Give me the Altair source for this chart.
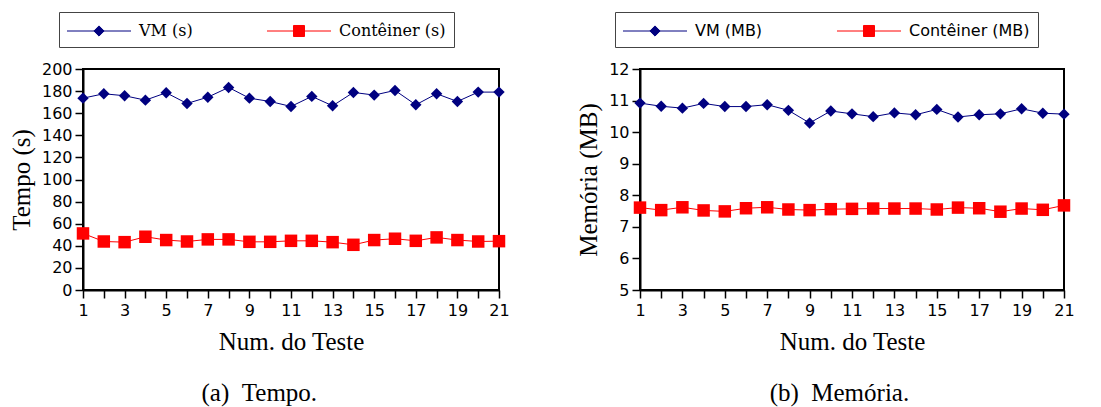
import altair as alt
import pandas as pd

# ---------------- data ----------------
testes = list(range(1, 22))
x_tick_values = list(range(1, 22))

tempo_series = ["VM (s)", "Contêiner (s)"]
tempo_vm = [173.6, 177.6, 175.8, 171.8, 178.5, 168.8, 174.5, 183.3, 173.6, 170.6, 166.1,
            175.2, 166.7, 178.8, 176.4, 180.6, 167.6, 177.6, 170.6, 179.1, 179.1]
tempo_ct = [51.2, 43.9, 43.3, 48.2, 45.2, 43.9, 45.8, 45.8, 43.6, 43.6, 44.5,
            44.5, 43.3, 40.9, 45.2, 46.4, 44.5, 47.6, 45.2, 43.9, 44.2]
tempo_ticks = [0, 20, 40, 60, 80, 100, 120, 140, 160, 180, 200]

mem_series = ["VM (MB)", "Contêiner (MB)"]
mem_vm = [10.92, 10.82, 10.76, 10.91, 10.81, 10.81, 10.87, 10.69, 10.29, 10.67, 10.58,
          10.49, 10.61, 10.55, 10.72, 10.48, 10.55, 10.58, 10.74, 10.60, 10.57]
mem_ct = [7.61, 7.53, 7.62, 7.52, 7.49, 7.59, 7.62, 7.55, 7.53, 7.56, 7.57,
          7.58, 7.58, 7.58, 7.55, 7.61, 7.59, 7.48, 7.58, 7.54, 7.68]
mem_ticks = [5, 6, 7, 8, 9, 10, 11, 12]

NAVY = "#000080"
RED = "#ff0000"

# legend symbols: a line with the marker in the middle (unit = 10.5 px for size 441)
DIAMOND_PATH = "M-1.048,0L5.048,0M2,-0.486L2.486,0L2,0.486L1.514,0Z"
SQUARE_PATH = "M-1.048,0L5.048,0M1.476,-0.524L2.524,-0.524L2.524,0.524L1.476,0.524Z"


def panel(vm, ct, names, ytitle, yticks, caption, legend_font, legend_x, width, caption_dx):
    df = pd.DataFrame({
        "teste": testes + testes,
        "valor": vm + ct,
        "serie": [names[0]] * len(vm) + [names[1]] * len(ct),
    })
    leg = alt.Legend(
        title=None, orient="none", direction="horizontal",
        legendX=legend_x, legendY=-57,
        symbolSize=441, symbolStrokeWidth=1,
        labelFont=legend_font, labelFontSize=16, labelColor="black",
        labelOffset=50, columnPadding=71, padding=8,
        strokeColor="#444444", fillColor="white",
    )
    x = alt.X("teste:Q", title="Num. do Teste",
              scale=alt.Scale(domain=[1, 21], nice=False, zero=False),
              axis=alt.Axis(values=x_tick_values,
                            labelExpr="datum.value % 2 == 1 ? datum.label : ''",
                            labelFlush=False, labelPadding=4, titlePadding=11))
    y = alt.Y("valor:Q", title=ytitle,
              scale=alt.Scale(domain=[yticks[0], yticks[-1]], nice=False, zero=False),
              axis=alt.Axis(values=yticks, labelPadding=3, titlePadding=7))
    base = alt.Chart(df).encode(x=x, y=y)
    line = base.mark_line(strokeWidth=1).encode(
        stroke=alt.Stroke("serie:N", scale=alt.Scale(domain=names, range=[NAVY, RED]), legend=leg)
    )
    pts_vm = base.transform_filter(alt.datum.serie == names[0]).mark_point(
        shape="diamond", filled=True, opacity=1, size=130, color=NAVY)
    pts_ct = base.transform_filter(alt.datum.serie == names[1]).mark_point(
        shape="square", filled=True, opacity=1, size=156, color=RED)
    legend_layer = base.transform_filter("false").mark_point(filled=True, opacity=1).encode(
        fill=alt.Fill("serie:N", scale=alt.Scale(domain=names, range=[NAVY, RED]), legend=leg),
        shape=alt.Shape("serie:N", scale=alt.Scale(domain=names, range=[DIAMOND_PATH, SQUARE_PATH]), legend=leg),
    )
    return alt.layer(line, pts_vm, pts_ct, legend_layer).properties(
        width=width, height=221,
        title=alt.TitleParams(caption, orient="bottom", anchor="middle", frame="bounds",
                              font="Liberation Serif", fontSize=25, fontWeight="normal",
                              color="black", offset=27, dx=caption_dx),
    )


left = panel(tempo_vm, tempo_ct, tempo_series, "Tempo (s)", tempo_ticks,
             "(a)\u2002Tempo.", "DejaVu Serif", -24, 416, 0)
right = panel(mem_vm, mem_ct, mem_series, "Memória (MB)", mem_ticks,
              "(b)\u2002Memória.", "DejaVu Sans", -25, 424, 14)

chart = alt.hconcat(left, right, spacing=64).resolve_scale(
    stroke="independent", fill="independent", shape="independent"
).resolve_legend(
    stroke="independent", fill="independent", shape="independent"
).properties(
    padding={"left": 0, "top": 2, "right": 5, "bottom": 0}
).configure_view(stroke="black", strokeWidth=2).configure_axis(
    grid=False,
    domainColor="black", domainWidth=2,
    tickColor="black", tickWidth=1.5, tickSize=8,
    labelFont="DejaVu Sans", labelFontSize=16, labelColor="black",
    titleFont="Liberation Serif", titleFontSize=25, titleFontWeight="normal", titleColor="black",
).configure_legend(labelFont="DejaVu Serif")

chart.save("out.html", embed_options={"renderer": "svg", "actions": False})
